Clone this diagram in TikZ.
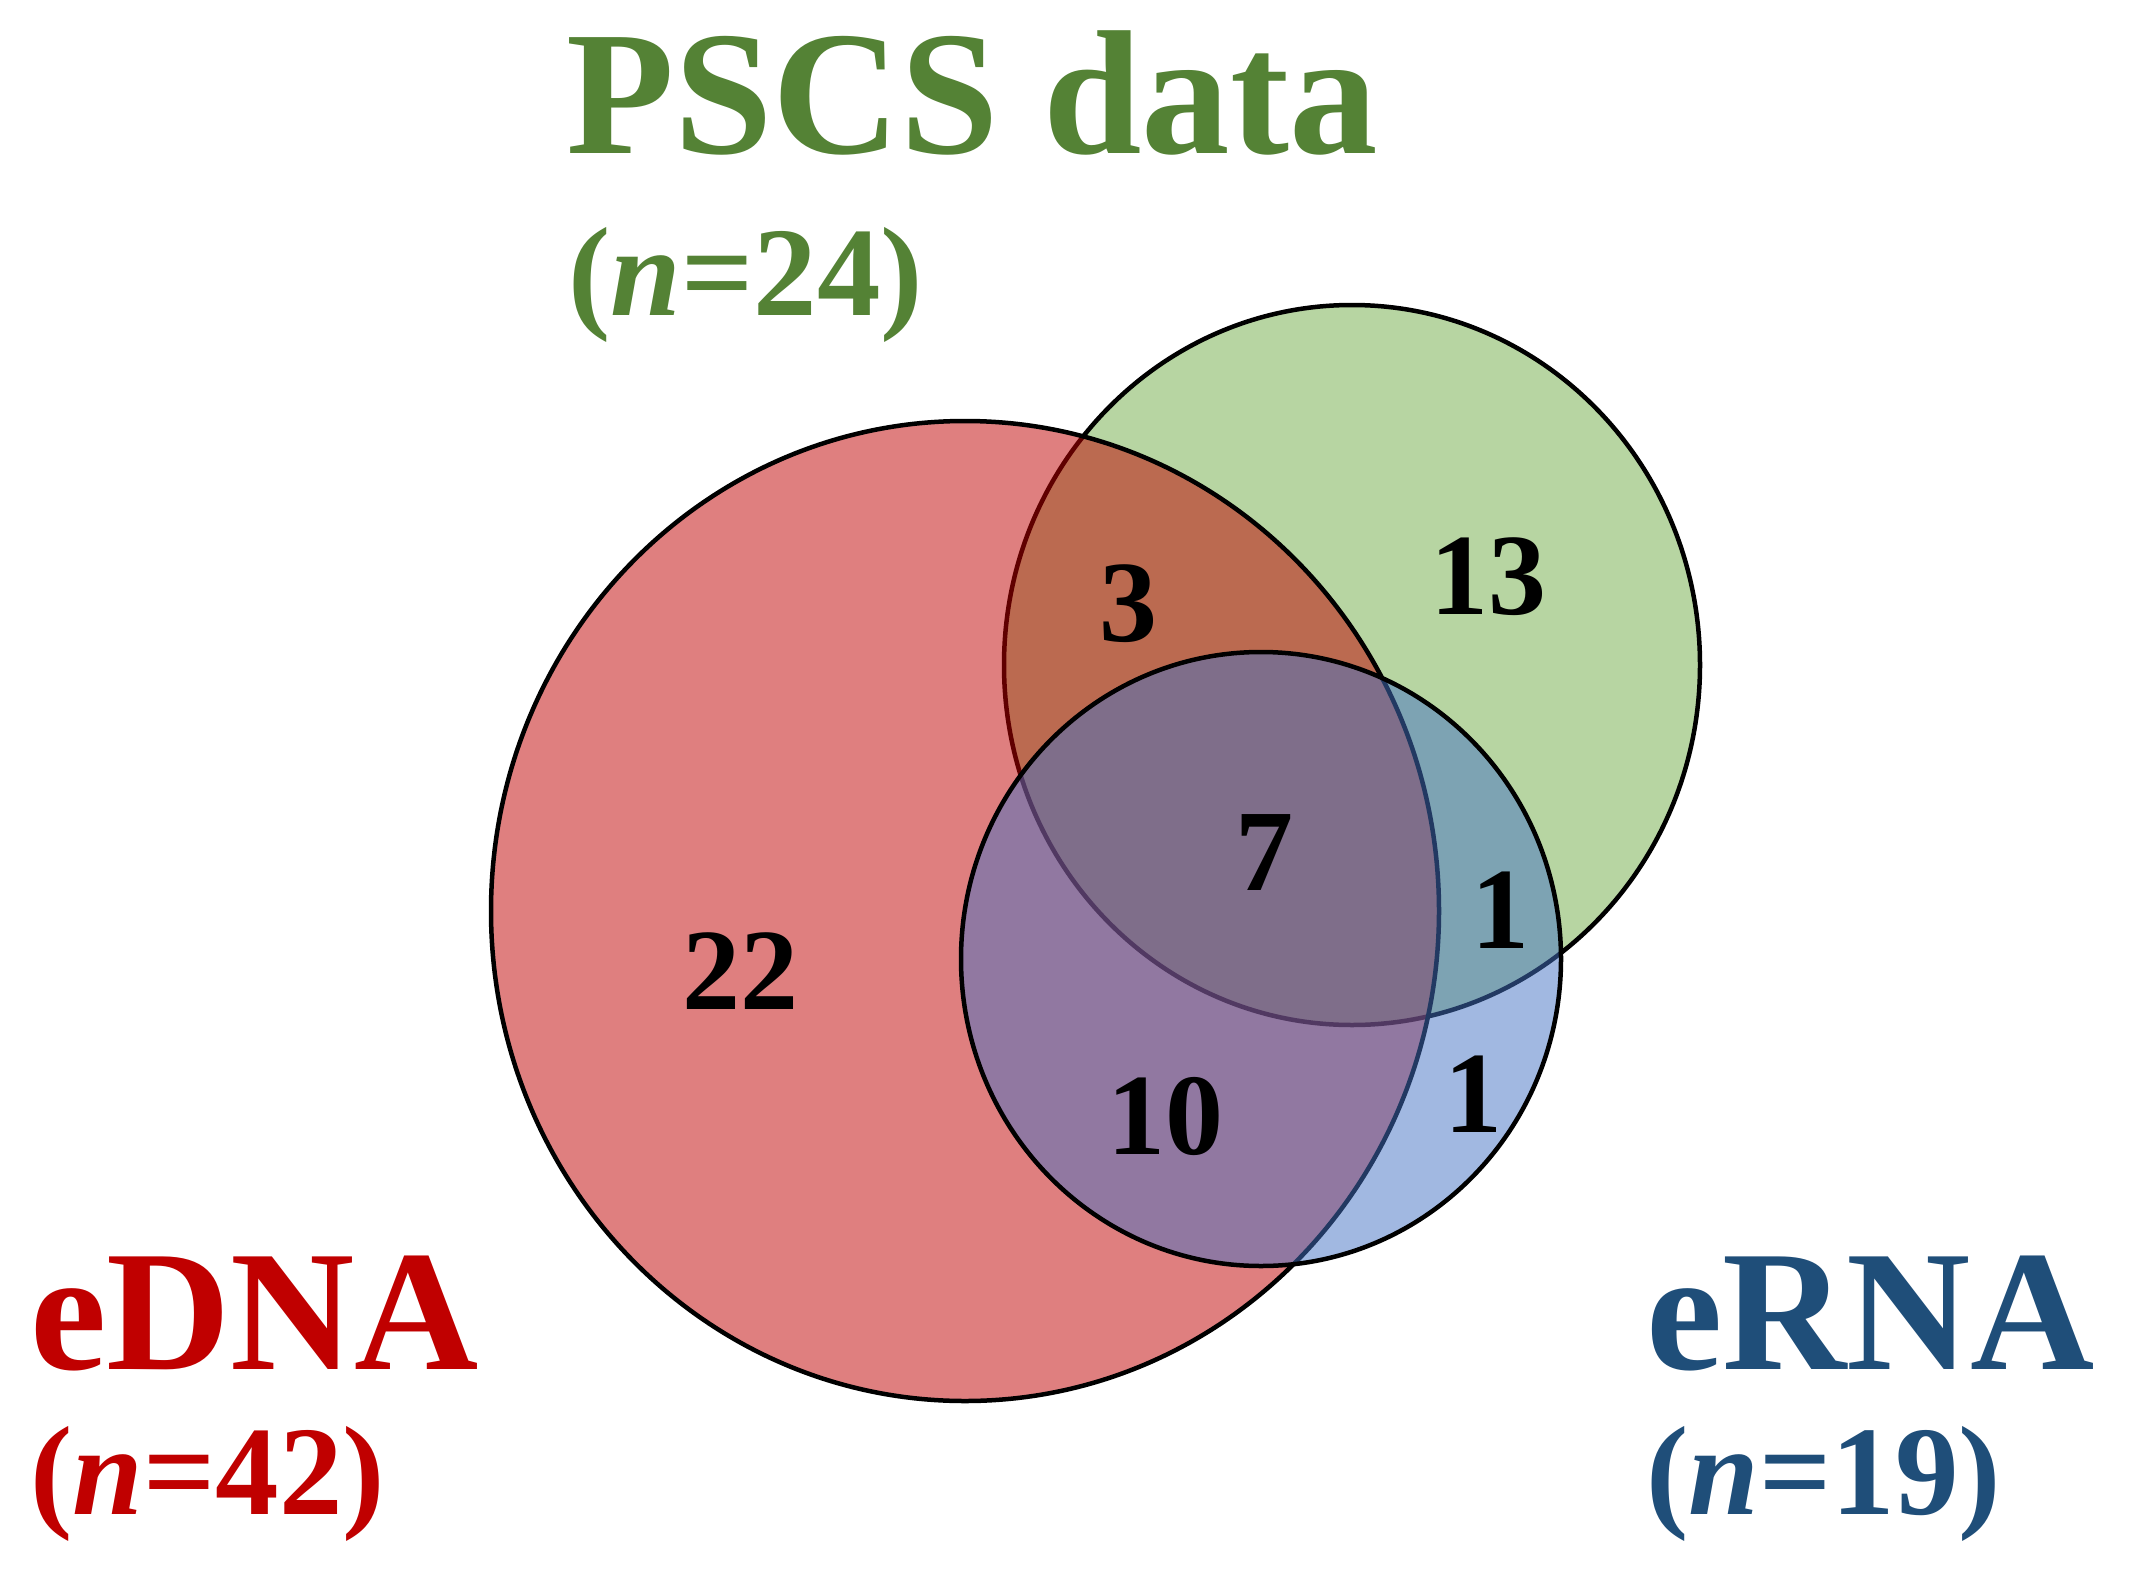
\documentclass[tikz,border=0pt]{standalone}
\usepackage{fontspec}
\setmainfont{Liberation Serif}
\definecolor{vgreen}{HTML}{70AD47}
\definecolor{vred}{HTML}{C00000}
\definecolor{vblue}{HTML}{4472C4}
\definecolor{tgreen}{HTML}{548235}
\definecolor{tred}{HTML}{C00000}
\definecolor{tblue}{HTML}{1F4E79}
\begin{document}
\begin{tikzpicture}[x=1pt,y=-1pt,
  setshape/.style={line width=4.5pt, draw=black, fill opacity=0.5},
  bigtitle/.style={font=\fontsize{172}{172}\selectfont\bfseries, anchor=base west, inner sep=0pt},
  subtitle/.style={font=\fontsize{127}{127}\selectfont\bfseries, anchor=base west, inner sep=0pt},
  count/.style={font=\fontsize{116}{116}\selectfont\bfseries, inner sep=0pt, text=black}]
\useasboundingbox (0,0) rectangle (2129,1582);
\fill[white] (0,0) rectangle (2129,1582);
% sets
\coordinate (cg) at (1352,665);
\coordinate (cr) at (965,911);
\coordinate (cb) at (1261,959);
\draw[setshape, fill=vgreen] (cg) ellipse [x radius=348, y radius=360];
\draw[setshape, fill=vred] (cr) ellipse [x radius=474, y radius=490];
\draw[setshape, fill=vblue] (cb) ellipse [x radius=300, y radius=307];
% titles
\node[bigtitle, text=tgreen, font=\fontsize{177}{177}\selectfont\bfseries] (tpscs) at (566,153) {PSCS data};
\node[subtitle, text=tgreen] (npscs) at (568,315) {(\textit{n}=24)};
\node[bigtitle, text=tred] (tedna) at (30,1369) {eDNA};
\node[subtitle, text=tred] (nedna) at (30,1514) {(\textit{n}=42)};
\node[bigtitle, text=tblue] (terna) at (1646,1369) {eRNA};
\node[subtitle, text=tblue] (nerna) at (1646,1514) {(\textit{n}=19)};
% counts
\node[count] (c3) at (1128,604) {3};
\node[count] (c13) at (1488,577) {13};
\node[count] (c7) at (1264,853) {7};
\node[count] (c1a) at (1500,910) {1};
\node[count] (c22) at (740,971) {22};
\node[count] (c10) at (1165,1116) {10};
\node[count] (c1b) at (1473,1094) {1};
\end{tikzpicture}
\end{document}
